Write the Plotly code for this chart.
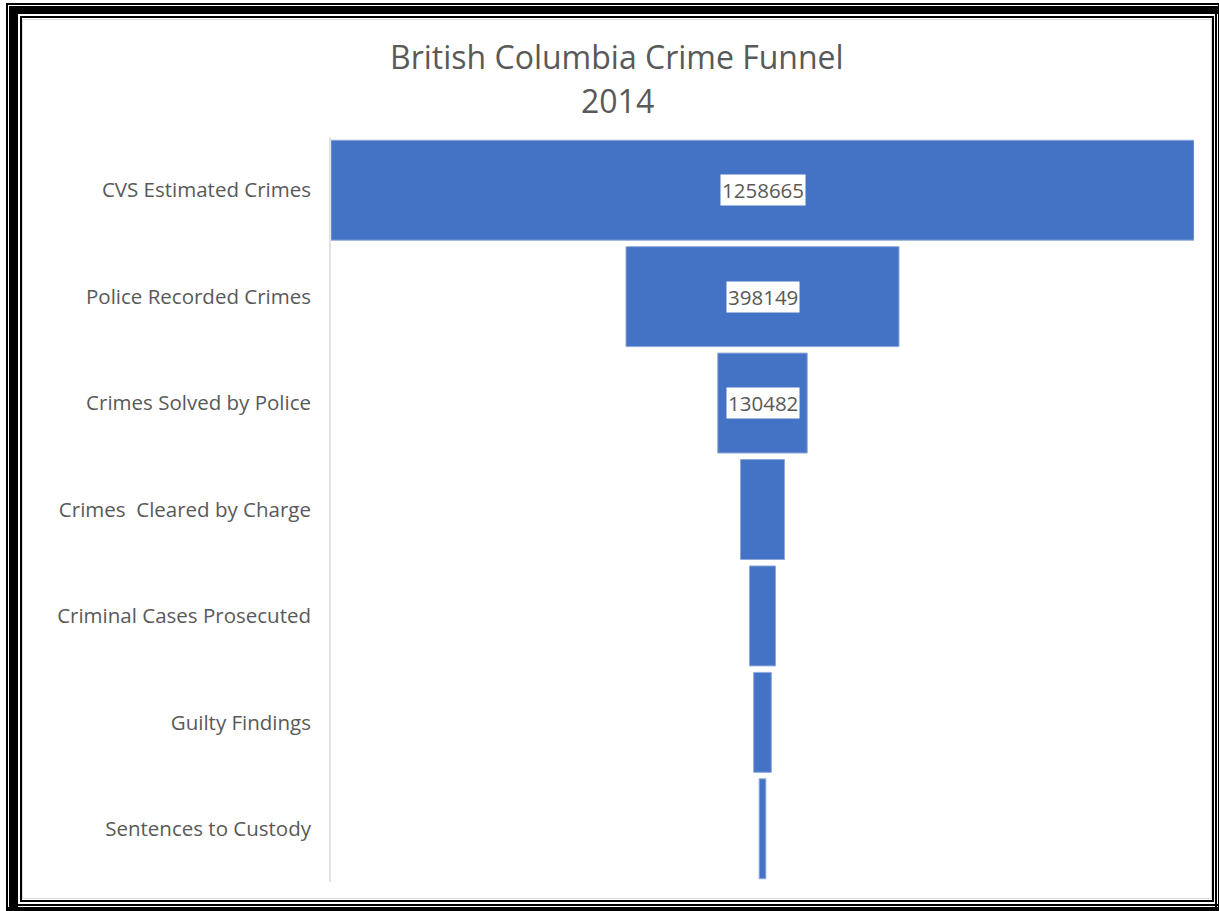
import plotly.graph_objects as go

# Funnel stages and counts
stages = [
    "CVS Estimated Crimes",
    "Police Recorded Crimes",
    "Crimes Solved by Police",
    "Crimes  Cleared by Charge",
    "Criminal Cases Prosecuted",
    "Guilty Findings",
    "Sentences to Custody",
]
counts = [1258665, 398149, 130482, 64200, 37900, 25800, 9700]
labelled = [True, True, True, False, False, False, False]

title_lines = ["British Columbia Crime Funnel", "2014"]

W, H = 1219, 911
ML, MR, MT, MB = 331, 25, 137, 29
PW, PH = W - ML - MR, H - MT - MB

GRAY_TEXT = "#595959"
BAR = "#4472C4"
FONT = "Open Sans"


def px(x):
    return (x - ML) / PW


def py(y):
    return (H - MB - y) / PH


fig = go.Figure(
    go.Funnel(
        y=stages,
        x=counts,
        marker=dict(color=BAR, line=dict(color="#8ea9db", width=1)),
        textinfo="none",
        connector=dict(visible=False),
        hoverinfo="x+y",
    )
)

# value labels on white boxes
for s, c, show in zip(stages, counts, labelled):
    if show:
        fig.add_annotation(
            x=0, y=s, xref="x", yref="y", text=str(c), showarrow=False,
            font=dict(family=FONT, size=20.5, color=GRAY_TEXT),
            bgcolor="white", borderpad=1,
        )

# two-line title
for line, ycen in zip(title_lines, (57, 101)):
    fig.add_annotation(
        x=px(617), y=py(ycen), xref="paper", yref="paper", text=line,
        showarrow=False, font=dict(family=FONT, size=32, color=GRAY_TEXT),
        xanchor="center", yanchor="middle",
    )

# picture frame: (x0, y0, x1, y1) in pixels
frame_rects = [
    # outer thin
    (6, 3, 1219, 5), (6, 3, 8, 911), (1218, 3, 1219, 911), (6, 907, 1219, 911),
    # thick middle
    (9, 6, 1218, 14), (9, 6, 18, 907), (1215, 6, 1217, 907), (9, 904, 1218, 906),
    # inner thin
    (20, 16, 1214, 18), (20, 16, 22, 902), (1212, 16, 1214, 902), (20, 900, 1214, 902),
]
shapes = []
for x0, y0, x1, y1 in frame_rects:
    shapes.append(dict(
        type="rect", xref="paper", yref="paper",
        x0=px(x0), x1=px(x1), y0=py(y0), y1=py(y1),
        fillcolor="black", line=dict(width=0), layer="above",
    ))
# light chart-area border
shapes.append(dict(
    type="rect", xref="paper", yref="paper",
    x0=px(22.5), x1=px(1211.5), y0=py(19.5), y1=py(898.5),
    line=dict(color="#d9d9d9", width=1), fillcolor="rgba(0,0,0,0)",
))
# category axis line
shapes.append(dict(
    type="line", xref="paper", yref="paper",
    x0=px(330), x1=px(330), y0=py(137), y1=py(882),
    line=dict(color="#d9d9d9", width=1.5),
))

half = counts[0] / 2
fig.update_layout(
    width=W, height=H,
    margin=dict(l=ML, r=MR, t=MT, b=MB),
    paper_bgcolor="white", plot_bgcolor="white",
    showlegend=False,
    funnelgap=0.061,
    shapes=shapes,
    xaxis=dict(range=[-half, half], visible=False, fixedrange=True),
    yaxis=dict(
        showline=False, showgrid=False, ticks="",
        ticklabelstandoff=19,
        tickfont=dict(family=FONT, size=20.5, color=GRAY_TEXT),
    ),
)

fig.write_html("out.html")
